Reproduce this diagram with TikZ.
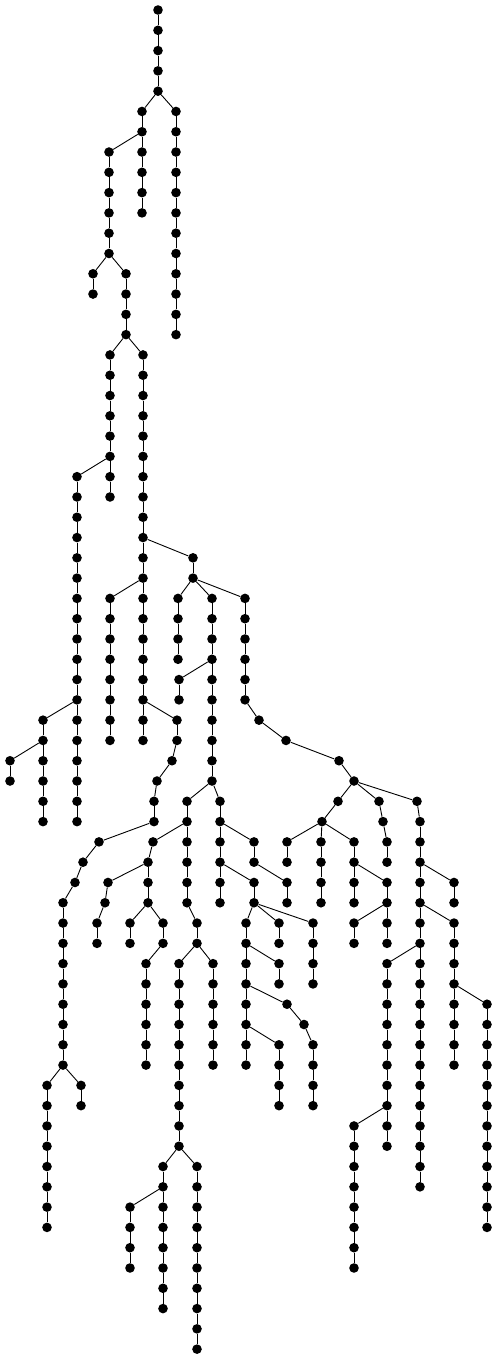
\documentclass[tikz,border=0pt]{standalone}
\tikzset{
  dot/.style={circle,fill=black,draw=none,inner sep=0pt,minimum size=9.6pt},
  lnk/.style={line width=0.9pt,black}
}
\newcommand\dotn[3]{\node[dot] (#1) at (#2,{-(10+20.29*#3)}) {};}
\newcommand\lnkk[2]{\draw[lnk] (#1) -- (#2);}
\newcommand\vchain[5]{%
  \foreach \r in {#3,...,#4}{%
    \node[dot] (#1-\r) at (#2,{-(10+20.29*\r)}) {};
    \ifnum\r=#3\relax \draw[lnk] (#5) -- (#1-\r);
    \else \pgfmathtruncatemacro\q{\r-1}\draw[lnk] (#1-\q) -- (#1-\r);
    \fi
  }%
}
\begin{document}
\begin{tikzpicture}[x=1pt,y=1pt]
\useasboundingbox (0,0) rectangle (498,-1358);
% trunk
\dotn{T-0}{158}{0}
\vchain{T}{158}{1}{4}{T-0}
\vchain{Q}{176}{5}{16}{T-4}
\vchain{P}{142}{5}{10}{T-4}
\vchain{A}{109}{7}{12}{P-6}
\vchain{AA}{93}{13}{14}{A-12}
\vchain{B}{126}{13}{16}{A-12}
\vchain{C}{110}{17}{24}{B-16}
\vchain{D}{77}{23}{40}{C-22}
\vchain{E}{43}{35}{40}{D-34}
\vchain{EE}{10}{37}{38}{E-36}
\vchain{F}{143}{17}{36}{B-16}
\vchain{G}{110}{29}{36}{F-28}
% H branch
\vchain{H}{177}{35}{36}{F-34}
\dotn{H-37}{172}{37}\lnkk{H-36}{H-37}
\dotn{H-38}{157}{38}\lnkk{H-37}{H-38}
\dotn{H-39}{154}{39}\lnkk{H-38}{H-39}
\dotn{H-40}{154}{40}\lnkk{H-39}{H-40}
\dotn{H-41}{99}{41}\lnkk{H-40}{H-41}
\dotn{H-42}{83}{42}\lnkk{H-41}{H-42}
\dotn{H-43}{75}{43}\lnkk{H-42}{H-43}
\dotn{H-44}{63}{44}\lnkk{H-43}{H-44}
\vchain{H}{63}{45}{52}{H-44}
\vchain{I}{47}{53}{60}{H-52}
\vchain{J}{81}{53}{54}{H-52}
% K branch
\vchain{K}{193}{27}{28}{F-26}
\vchain{L}{178}{29}{32}{K-28}
\vchain{M}{212}{29}{38}{K-28}
\vchain{MM}{179}{33}{34}{M-32}
\vchain{N}{245}{29}{34}{K-28}
\dotn{N-35}{259}{35}\lnkk{N-34}{N-35}
\dotn{N-36}{286}{36}\lnkk{N-35}{N-36}
\dotn{N-37}{339}{37}\lnkk{N-36}{N-37}
\dotn{N-38}{354}{38}\lnkk{N-37}{N-38}
% O branch
\vchain{O}{187}{39}{40}{M-38}
\dotn{OA-41}{153}{41}\lnkk{O-40}{OA-41}
\vchain{OA}{148}{42}{44}{OA-41}
\dotn{S-43}{108}{43}\lnkk{OA-42}{S-43}
\dotn{S-44}{105}{44}\lnkk{S-43}{S-44}
\dotn{S-45}{97}{45}\lnkk{S-44}{S-45}
\dotn{S-46}{97}{46}\lnkk{S-45}{S-46}
\vchain{U}{130}{45}{46}{OA-44}
\vchain{V}{163}{45}{46}{OA-44}
\vchain{V}{146}{47}{52}{V-46}
\vchain{OB}{187}{41}{44}{O-40}
\vchain{OB}{197}{45}{46}{OB-44}
\vchain{W}{179}{47}{56}{OB-46}
\vchain{WA}{163}{57}{58}{W-56}
\vchain{WB}{130}{59}{62}{WA-58}
\vchain{WC}{163}{59}{64}{WA-58}
\vchain{WD}{197}{57}{66}{W-56}
\vchain{X}{213}{47}{52}{OB-46}
% R branch
\vchain{R}{220}{39}{40}{M-38}
\vchain{RA}{220}{41}{42}{R-40}
\vchain{RB}{220}{43}{44}{RA-42}
\vchain{RC}{254}{43}{44}{RA-42}
\vchain{YA}{246}{45}{52}{RC-44}
\vchain{YB}{279}{45}{46}{RC-44}
\vchain{YC}{313}{45}{48}{RC-44}
\vchain{YD}{279}{47}{48}{YA-46}
\dotn{Z-49}{287}{49}\lnkk{YA-48}{Z-49}
\dotn{Z-50}{304}{50}\lnkk{Z-49}{Z-50}
\vchain{Z}{313}{51}{54}{Z-50}
\vchain{YE}{279}{51}{54}{YA-50}
\vchain{RD}{254}{41}{42}{R-40}
\vchain{RD}{287}{43}{44}{RD-42}
% right cluster
\dotn{Ra-39}{338}{39}\lnkk{N-38}{Ra-39}
\dotn{Ra-40}{322}{40}\lnkk{Ra-39}{Ra-40}
\vchain{Rb}{287}{41}{42}{Ra-40}
\vchain{Rc}{321}{41}{44}{Ra-40}
\vchain{Rd}{354}{41}{44}{Ra-40}
\vchain{Re}{387}{43}{44}{Rd-42}
\vchain{Rf}{354}{45}{46}{Re-44}
\vchain{Rg}{387}{45}{46}{Re-44}
\dotn{Ba-39}{379}{39}\lnkk{N-38}{Ba-39}
\dotn{Ba-40}{383}{40}\lnkk{Ba-39}{Ba-40}
\vchain{Ba}{387}{41}{42}{Ba-40}
\dotn{Ca-39}{417}{39}\lnkk{N-38}{Ca-39}
\vchain{Ca}{420}{40}{58}{Ca-39}
\vchain{Cb}{454}{43}{44}{Ca-42}
\vchain{Cc}{454}{45}{52}{Ca-44}
\vchain{Ce}{487}{49}{60}{Cc-48}
\vchain{Cd}{387}{47}{56}{Ca-46}
\vchain{Cf}{354}{55}{62}{Cd-54}
\end{tikzpicture}
\end{document}
